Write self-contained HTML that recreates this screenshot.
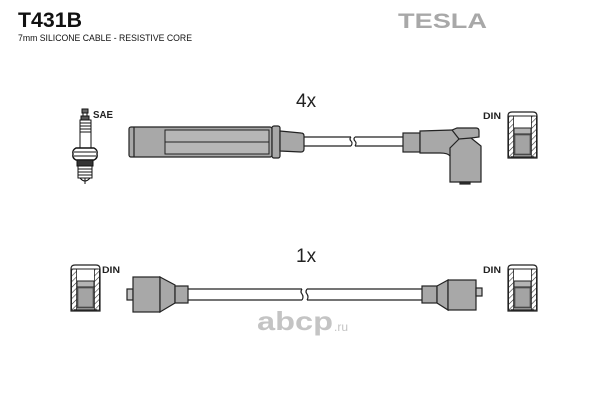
<!DOCTYPE html>
<html><head><meta charset="utf-8"><style>
html,body{margin:0;padding:0;background:#fff;}
svg{display:block;}
text{font-family:"Liberation Sans",sans-serif;}
</style></head><body>
<svg width="600" height="400" viewBox="0 0 600 400" xmlns="http://www.w3.org/2000/svg">
<defs>
<pattern id="hat" width="4" height="4" patternUnits="userSpaceOnUse" patternTransform="rotate(45)">
<rect width="4" height="4" fill="#fff"/><line x1="0" y1="0" x2="0" y2="4" stroke="#333" stroke-width="1.2"/>
</pattern>
<g id="din">
<path d="M0,46 L0,4 Q0,0 4,0 L25,0 Q29,0 29,4 L29,46 Z" fill="#fff" stroke="#222" stroke-width="1.2"/>
<rect x="0.6" y="4" width="5" height="41" fill="url(#hat)" stroke="#222" stroke-width="0.8"/>
<rect x="23.4" y="4" width="5" height="41" fill="url(#hat)" stroke="#222" stroke-width="0.8"/>
<line x1="2" y1="4" x2="27" y2="4" stroke="#222" stroke-width="1"/>
<rect x="6" y="16" width="17" height="27" fill="#b4b4b4" stroke="#222" stroke-width="1"/>
<line x1="6" y1="22" x2="23" y2="22" stroke="#222" stroke-width="1"/>
<rect x="7" y="23" width="15" height="19" fill="#a4a4a4" stroke="#444" stroke-width="0.6"/>
<line x1="3" y1="45" x2="26" y2="45" stroke="#222" stroke-width="1.4"/>
</g>
</defs>

<!-- header -->
<text x="18" y="27" font-size="21" font-weight="bold" fill="#111" textLength="64" lengthAdjust="spacingAndGlyphs">T431B</text>
<text x="18" y="41" font-size="9" fill="#111" textLength="174" lengthAdjust="spacingAndGlyphs">7mm SILICONE CABLE - RESISTIVE CORE</text>
<text x="398" y="28" font-size="21" font-weight="bold" fill="#a8a8a8" textLength="89" lengthAdjust="spacingAndGlyphs">TESLA</text>

<!-- labels -->
<text x="296" y="107" font-size="19" fill="#222">4x</text>
<text x="296" y="262" font-size="19" fill="#222">1x</text>
<text x="93" y="118" font-size="10" font-weight="bold" fill="#222" textLength="20" lengthAdjust="spacingAndGlyphs">SAE</text>
<text x="483" y="119" font-size="9" font-weight="bold" fill="#222" textLength="18" lengthAdjust="spacingAndGlyphs">DIN</text>
<text x="102" y="273" font-size="9" font-weight="bold" fill="#222" textLength="18" lengthAdjust="spacingAndGlyphs">DIN</text>
<text x="483" y="273" font-size="9" font-weight="bold" fill="#222" textLength="18" lengthAdjust="spacingAndGlyphs">DIN</text>

<!-- spark plug -->
<g stroke="#111" stroke-width="1" fill="#fff">
<rect x="82" y="109" width="6" height="4" fill="#666"/>
<rect x="83" y="113" width="4" height="3" fill="#fff"/>
<rect x="81" y="116" width="8" height="4" fill="#555"/>
<rect x="80" y="120" width="11" height="28"/>
<line x1="80" y1="123" x2="91" y2="123"/>
<line x1="80" y1="126" x2="91" y2="126"/>
<line x1="80" y1="129" x2="91" y2="129"/>
<line x1="80" y1="132" x2="91" y2="132"/>
<path d="M76,148 L94,148 Q98,150 97,154 Q98,158 94,160 L76,160 Q72,158 73,154 Q72,150 76,148 Z" fill="#fff" stroke-width="1.4"/>
<line x1="74" y1="152" x2="96" y2="152"/>
<line x1="74" y1="156" x2="96" y2="156"/>
<rect x="77" y="160" width="16" height="6" fill="#333"/>
<rect x="78" y="166" width="14" height="12"/>
<line x1="78" y1="169" x2="92" y2="169"/>
<line x1="78" y1="172" x2="92" y2="172"/>
<line x1="78" y1="175" x2="92" y2="175"/>
<path d="M80,178 Q85,184 90,178" fill="none"/>
<line x1="85" y1="178" x2="85" y2="184"/>
</g>

<!-- top boot -->
<g stroke="#222" stroke-width="1.2">
<rect x="129" y="127" width="143" height="30" rx="2" fill="#a8a8a8"/>
<line x1="134" y1="127" x2="134" y2="157"/>
<rect x="165" y="130" width="104" height="24" fill="#b6b6b6" stroke-width="1"/>
<line x1="165" y1="142" x2="269" y2="142" stroke-width="1"/>
<rect x="272" y="126" width="8" height="32" rx="2" fill="#a8a8a8"/>
<path d="M280,131 L301,133 Q304,133 304,136 L304,149 Q304,152 301,152 L280,151 Z" fill="#a8a8a8"/>
</g>
<!-- top cable -->
<g stroke="#222" stroke-width="1.2" fill="none">
<line x1="304" y1="137" x2="351" y2="137"/>
<line x1="304" y1="146" x2="351" y2="146"/>
<line x1="355" y1="137" x2="403" y2="137"/>
<line x1="355" y1="146" x2="403" y2="146"/>
<path d="M351,137 Q349,139 351,141 Q353,143 351,146"/>
<path d="M355,137 Q353,139 355,141 Q357,143 355,146"/>
</g>
<!-- top elbow -->
<g stroke="#222" stroke-width="1.2" fill="#a8a8a8">
<rect x="403" y="133" width="17" height="19"/>
<path d="M420,131 L452,130 L457,128 L476,128 Q479,128 479,131 L479,137 L471,138 L481,146 L481,182 L450,182 L450,156 Q448,153 440,153 L420,153 Z"/>
<path d="M452,130 L459,139 L471,138" fill="none"/>
<path d="M450,156 L450,148 L459,139" fill="none"/>
<rect x="460" y="182" width="10" height="2" fill="#333"/>
</g>
<use href="#din" x="508" y="112"/>

<!-- bottom row -->
<use href="#din" x="71" y="265"/>
<use href="#din" x="508" y="265"/>
<g stroke="#222" stroke-width="1.2" fill="#a8a8a8">
<rect x="127" y="289" width="6" height="11" fill="#c0c0c0"/>
<rect x="133" y="277" width="27" height="35"/>
<path d="M160,277 L175,285 L175,303 L160,312 Z"/>
<rect x="175" y="286" width="13" height="17"/>
<rect x="422" y="286" width="15" height="17"/>
<path d="M437,286 L448,280 L448,310 L437,303 Z"/>
<rect x="448" y="280" width="28" height="30"/>
<rect x="476" y="288" width="6" height="8" fill="#c0c0c0"/>
</g>
<g stroke="#222" stroke-width="1.2" fill="none">
<line x1="188" y1="289" x2="302" y2="289"/>
<line x1="188" y1="300" x2="302" y2="300"/>
<line x1="307" y1="289" x2="422" y2="289"/>
<line x1="307" y1="300" x2="422" y2="300"/>
<path d="M302,289 Q300,292 302,294 Q304,297 302,300"/>
<path d="M307,289 Q305,292 307,294 Q309,297 307,300"/>
</g>

<!-- watermark -->
<text x="257" y="330" font-size="26" font-weight="bold" fill="#c4c4c4" textLength="76" lengthAdjust="spacingAndGlyphs">abcp</text>
<text x="334" y="331" font-size="12" fill="#c4c4c4">.ru</text>
</svg>
</body></html>
